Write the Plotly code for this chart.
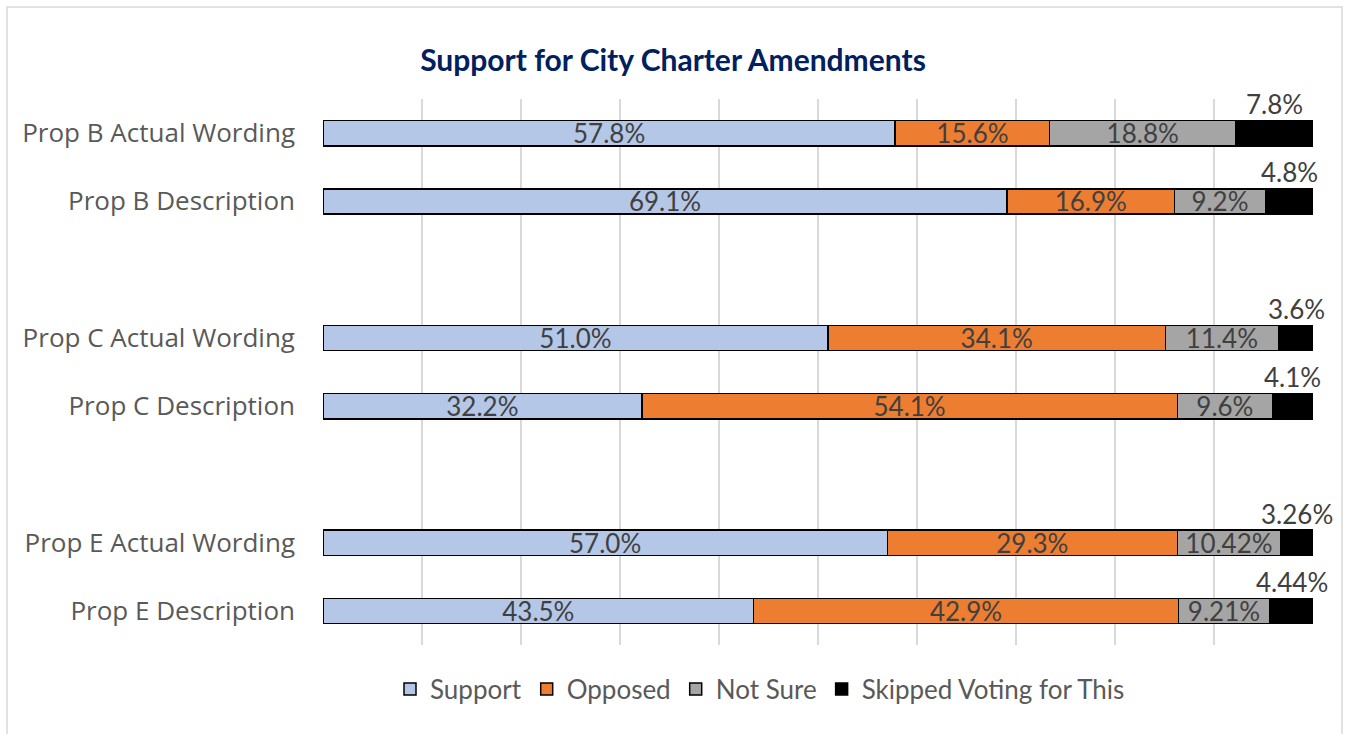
import plotly.graph_objects as go

# Survey results per question wording (percent of respondents)
categories = [
    "Prop B Actual Wording", "Prop B Description",
    "Prop C Actual Wording", "Prop C Description",
    "Prop E Actual Wording", "Prop E Description",
]
support = [57.8, 69.1, 51.0, 32.2, 57.0, 43.5]
opposed = [15.6, 16.9, 34.1, 54.1, 29.3, 42.9]
not_sure = [18.8, 9.2, 11.4, 9.6, 10.42, 9.21]
skipped = [7.8, 4.8, 3.6, 4.1, 3.26, 4.44]

support_txt = ["57.8%", "69.1%", "51.0%", "32.2%", "57.0%", "43.5%"]
opposed_txt = ["15.6%", "16.9%", "34.1%", "54.1%", "29.3%", "42.9%"]
not_sure_txt = ["18.8%", "9.2%", "11.4%", "9.6%", "10.42%", "9.21%"]
skipped_txt = ["7.8%", "4.8%", "3.6%", "4.1%", "3.26%", "4.44%"]

series_names = ["Support", "Opposed", "Not Sure", "Skipped Voting for This"]
series_colors = ["#B4C7E7", "#ED7D31", "#A5A5A5", "#000000"]

# Blank spacer rows separate the three propositions
spacer_after = {1: "sp1", 3: "sp2"}
row_order = []
row_text = []
for i, c in enumerate(categories):
    row_order.append(c)
    row_text.append(c)
    if i in spacer_after:
        row_order.append(spacer_after[i])
        row_text.append("")

LABEL_FONT = "Lato, Carlito, Calibri, sans-serif"
TXT = "#404040"

fig = go.Figure()
values = [support, opposed, not_sure, skipped]
texts = [support_txt, opposed_txt, not_sure_txt, None]
for name, color, vals, txt in zip(series_names, series_colors, values, texts):
    fig.add_trace(go.Bar(
        y=categories, x=vals, name=name, orientation="h",
        width=0.37,
        marker=dict(color=color, line=dict(color="#000000", width=1.5)),
        text=txt,
        textposition="inside" if txt else "none",
        insidetextanchor="middle",
        textangle=0,
        constraintext="none",
        textfont=dict(family=LABEL_FONT, size=26, color=TXT),
        hoverinfo="skip",
    ))

# Skipped-share labels sit above the black segment
for cat, s, o, n, k, t in zip(categories, support, opposed, not_sure, skipped, skipped_txt):
    fig.add_annotation(
        x=s + o + n + k / 2, y=cat, text=t, showarrow=False,
        xanchor="center", yanchor="middle", yshift=29,
        font=dict(family=LABEL_FONT, size=26, color=TXT),
    )

W, H = 1347, 734
ML, MR, MT, MB = 323, 34, 99, 89
pw, ph = W - ML - MR, H - MT - MB

def px_x(px):
    return (px - ML) / pw

def px_y(py):
    return (H - MB - py) / ph

# Light chart-area frame
fig.add_shape(
    type="rect", xref="paper", yref="paper",
    x0=px_x(7), x1=px_x(1342), y0=px_y(745), y1=px_y(7),
    line=dict(color="#D9D9D9", width=1.5), fillcolor="rgba(0,0,0,0)", layer="below",
)

fig.update_layout(
    width=W, height=H,
    margin=dict(l=ML, r=MR, t=MT, b=MB, pad=0),
    barmode="stack",
    plot_bgcolor="white", paper_bgcolor="white",
    title=dict(
        text="<b>Support for City Charter Amendments</b>",
        x=673 / W, xanchor="center", xref="container",
        y=1 - 60 / H, yanchor="middle", yref="container",
        font=dict(family=LABEL_FONT, size=30, color="#002060"),
    ),
    xaxis=dict(
        range=[0, 100], dtick=10, showticklabels=False,
        showgrid=True, gridcolor="#D9D9D9", gridwidth=1.5,
        zeroline=False, showline=False, fixedrange=True,
    ),
    yaxis=dict(
        type="category",
        categoryorder="array", categoryarray=row_order,
        tickvals=row_order, ticktext=row_text,
        range=[len(row_order) - 0.5, -0.5],
        showgrid=False, zeroline=False, showline=False,
        ticks="", ticklabelstandoff=27, fixedrange=True,
        tickfont=dict(family="Open Sans, sans-serif", size=26, color="#595959"),
    ),
    legend=dict(
        orientation="h", x=px_x(760), xanchor="center",
        y=px_y(689), yanchor="middle",
        font=dict(family=LABEL_FONT, size=26, color="#595959"),
        traceorder="normal", itemclick=False,
    ),
    showlegend=True,
)

fig.write_html("out.html")
